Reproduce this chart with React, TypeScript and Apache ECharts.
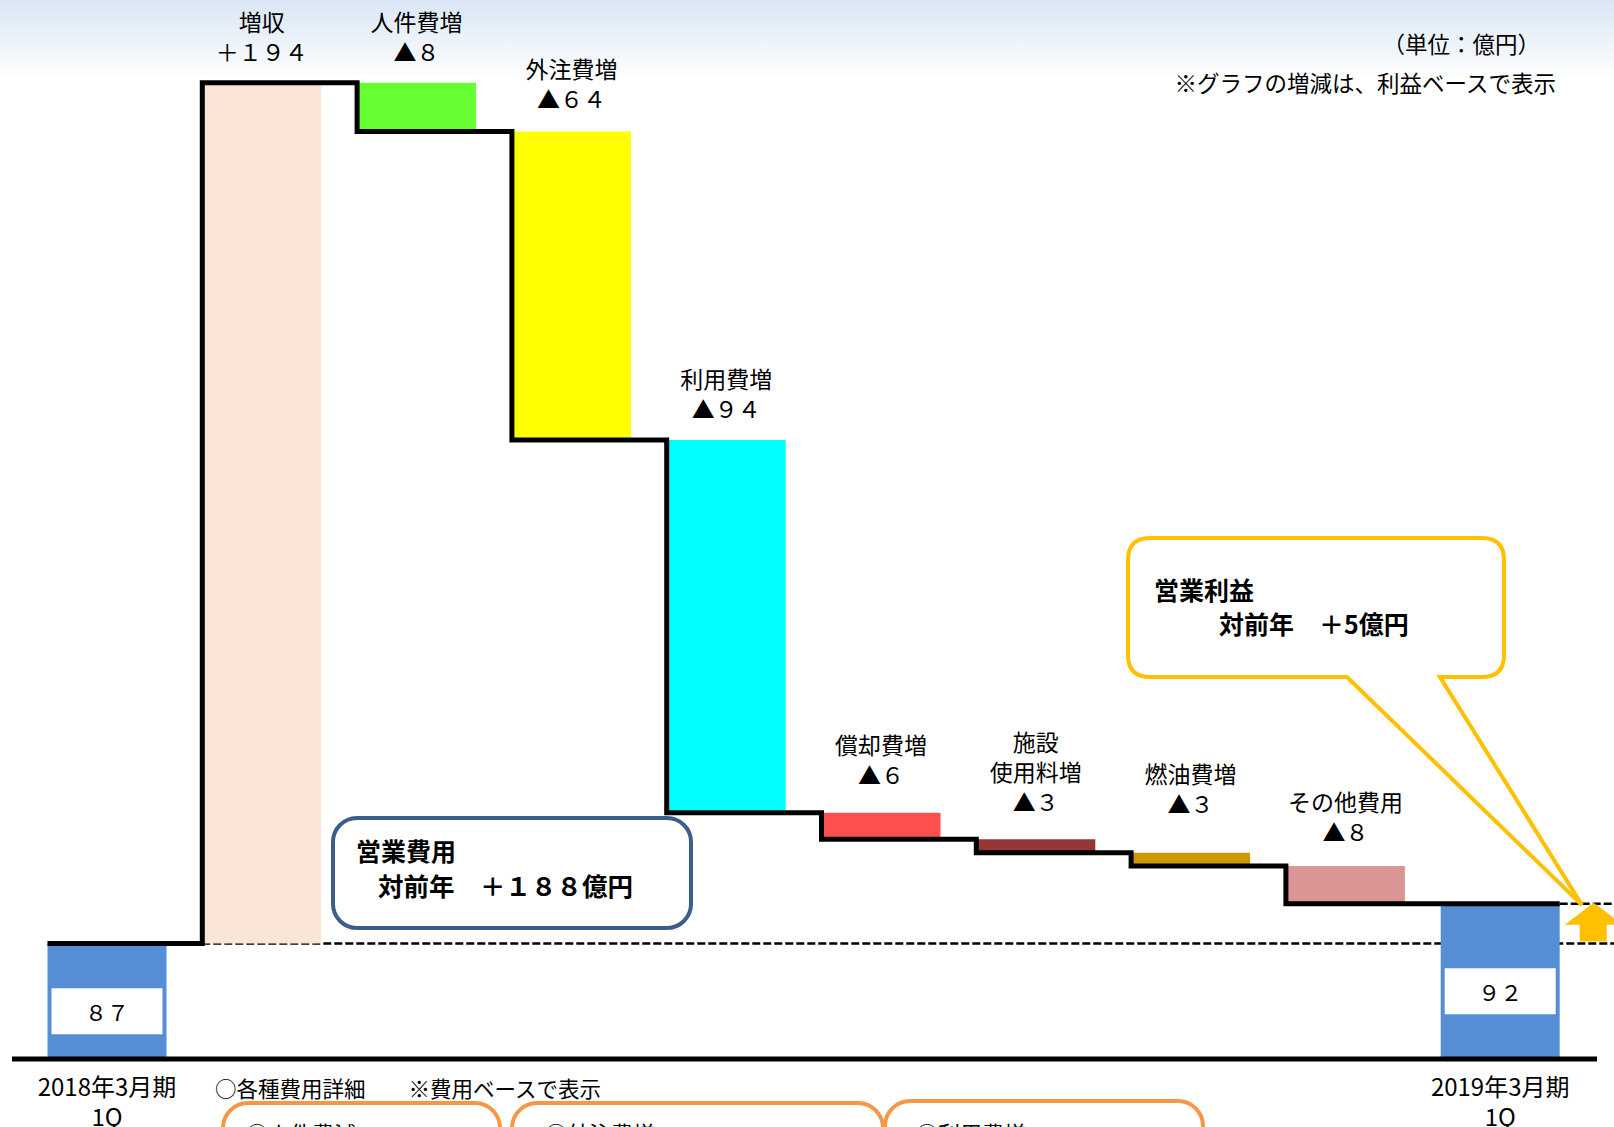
import React, { useEffect, useRef } from "react";
import * as echarts from "echarts";

const FONT = '"Noto Sans CJK JP", "Noto Sans", sans-serif';

// ---- data ----
const categories = [
  "2018年3月期\n1Q",
  "増収",
  "人件費増",
  "外注費増",
  "利用費増",
  "償却費増",
  "施設使用料増",
  "燃油費増",
  "その他費用",
  "2019年3月期\n1Q",
];
const startValue = 87;
// bar heights as drawn in the picture (profit-based)
const changes = [194, -11, -69.5, -84, -6, -3, -3, -8.5];
const totalLabels = ["８７", "９２"];
const changeLabels = [
  "増収\n＋１９４",
  "人件費増\n▲８",
  "外注費増\n▲６４",
  "利用費増\n▲９４",
  "償却費増\n▲６",
  "施設\n使用料増\n▲３",
  "燃油費増\n▲３",
  "その他費用\n▲８",
];
const changeColors = ["#FBE5D6", "#66FF33", "#FFFF00", "#00FFFF", "#FF5050", "#953735", "#CC9900", "#D99694"];
const labelGaps = [17, 17, 18, 17, 24, 23, 35, 20];

// ---- derived ----
const levels: number[] = [startValue];
changes.forEach((c, i) => levels.push(levels[i] + c));
const endValue = levels[levels.length - 1];
const N = categories.length;

const BAR_W = 119;
const Y_MIN = 61;
const Y_MAX = 290;
const W = 1614;
const H = 1127;
const AXIS_Y = 1059;
const GRID_H = (Y_MAX - Y_MIN) * 4.438;
const GRID_TOP = AXIS_Y - GRID_H;

const CALLOUT_PATH =
  "M 1150 538 L 1482 538 Q 1504 538 1504 560 L 1504 655 Q 1504 677 1482 677 L 1440 677 L 1582 905 L 1347 677 L 1150 677 Q 1128 677 1128 655 L 1128 560 Q 1128 538 1150 538 Z";

let registered = false;
function ensureShapes() {
  if (registered) return;
  registered = true;
  echarts.graphic.registerShape("callout", echarts.graphic.extendPath(CALLOUT_PATH, {}) as any);
}

export default function App() {
  const ref = useRef<HTMLDivElement>(null);

  useEffect(() => {
    if (!ref.current) return;
    ensureShapes();
    const chart = echarts.init(ref.current, null, { renderer: "svg", width: W, height: H });

    const baseData: any[] = [];
    const deltaData: any[] = [];
    const totalData: any[] = [];
    for (let i = 0; i < N; i++) {
      if (i === 0 || i === N - 1) {
        baseData.push("-");
        deltaData.push("-");
        totalData.push({
          value: i === 0 ? startValue : endValue,
          label: { formatter: totalLabels[i === 0 ? 0 : 1] },
        });
      } else {
        const k = i - 1;
        const c = changes[k];
        baseData.push(c > 0 ? levels[k] : levels[k + 1]);
        deltaData.push({
          value: Math.abs(c),
          itemStyle: { color: changeColors[k] },
          label: { formatter: changeLabels[k], distance: labelGaps[k] },
        });
        totalData.push("-");
      }
    }

    const option: any = {
      animation: false,
      backgroundColor: "#ffffff",
      grid: {
        left: 29.6,
        width: 1548,
        top: GRID_TOP,
        height: GRID_H,
        containLabel: false,
        outerBoundsMode: "none",
      },
      xAxis: {
        type: "category",
        data: categories,
        axisLine: { show: false },
        axisTick: { show: false },
        axisLabel: {
          interval: 0,
          margin: 11,
          fontSize: 24,
          lineHeight: 30,
          color: "#000",
          fontFamily: FONT,
          formatter: (v: string, i: number) => (i === 0 || i === N - 1 ? v : ""),
        },
        splitLine: { show: false },
      },
      yAxis: { type: "value", min: Y_MIN, max: Y_MAX, show: false, splitLine: { show: false } },
      series: [
        {
          type: "custom",
          name: "dash",
          z: 1,
          clip: false,
          data: [[0, startValue]],
          renderItem: (params: any, api: any) => {
            const half = BAR_W / 2;
            const xc = (i: number) => api.coord([i, startValue])[0];
            const y = (v: number) => api.coord([0, v])[1];
            const x1 = xc(1) - half;
            const xR = xc(N - 1) + half;
            const yS = y(startValue);
            const yE = y(endValue);
            const cx = xR + 34;
            const headY = yE + 21;
            return {
              type: "group",
              children: [
                {
                  type: "line",
                  shape: { x1: x1, y1: yS, x2: api.getWidth(), y2: yS },
                  style: { stroke: "#000", lineWidth: 2.5, lineDash: [8, 3] },
                },
                {
                  type: "line",
                  shape: { x1: xR, y1: yE, x2: api.getWidth(), y2: yE },
                  style: { stroke: "#000", lineWidth: 2.5, lineDash: [8, 3] },
                },
                {
                  type: "polygon",
                  shape: {
                    points: [
                      [cx, yE - 1],
                      [cx + 29, headY],
                      [cx + 13, headY],
                      [cx + 13, yS - 2],
                      [cx - 14, yS - 2],
                      [cx - 14, headY],
                      [cx - 29, headY],
                    ],
                  },
                  style: { fill: "#FFC000" },
                },
              ],
            };
          },
        },
        {
          type: "bar",
          name: "base",
          stack: "w",
          barWidth: BAR_W,
          barGap: "-100%",
          itemStyle: { color: "transparent" },
          data: baseData,
        },
        {
          type: "bar",
          name: "delta",
          stack: "w",
          barWidth: BAR_W,
          barGap: "-100%",
          data: deltaData,
          label: {
            show: true,
            position: "top",
            fontSize: 23,
            lineHeight: 30,
            color: "#000",
            fontFamily: FONT,
            align: "center",
          },
        },
        {
          type: "bar",
          name: "total",
          barWidth: BAR_W,
          barGap: "-100%",
          itemStyle: { color: "#558ED5" },
          data: totalData,
          label: {
            show: true,
            position: "inside",
            offset: [0, 10],
            backgroundColor: "#ffffff",
            width: 111,
            height: 46,
            lineHeight: 46,
            align: "center",
            verticalAlign: "middle",
            fontSize: 22,
            color: "#000",
            fontFamily: FONT,
          },
        },
        {
          type: "custom",
          name: "step",
          z: 5,
          clip: false,
          data: [[0, startValue]],
          renderItem: (params: any, api: any) => {
            const half = BAR_W / 2;
            const xc = (i: number) => api.coord([i, startValue])[0];
            const y = (v: number) => api.coord([0, v])[1];
            const pts: number[][] = [[xc(0) - half, y(levels[0])]];
            for (let k = 1; k < levels.length; k++) {
              pts.push([xc(k) - half, y(levels[k - 1])]);
              pts.push([xc(k) - half, y(levels[k])]);
            }
            pts.push([xc(N - 1) + half, y(levels[levels.length - 1])]);
            return {
              type: "group",
              children: [
                {
                  type: "polyline",
                  shape: { points: pts },
                  style: { stroke: "#000", lineWidth: 5, fill: null, lineJoin: "miter" },
                },
                {
                  type: "line",
                  shape: { x1: 12, y1: y(Y_MIN), x2: 1597, y2: y(Y_MIN) },
                  style: { stroke: "#000", lineWidth: 5 },
                },
              ],
            };
          },
        },
      ],
      graphic: [
        {
          type: "rect",
          z: -100,
          silent: true,
          shape: { x: 0, y: 0, width: W, height: 80 },
          style: {
            fill: new echarts.graphic.LinearGradient(0, 0, 0, 1, [
              { offset: 0, color: "#D9E6F5" },
              { offset: 1, color: "#FFFFFF" },
            ]),
          },
        },
        {
          type: "text",
          z: 100,
          x: 1540,
          y: 43,
          style: { text: "（単位：億円）", fontSize: 22.5, fontFamily: FONT, fill: "#000", align: "right", verticalAlign: "middle" },
        },
        {
          type: "text",
          z: 100,
          x: 1556,
          y: 82,
          style: { text: "※グラフの増減は、利益ベースで表示", fontSize: 22.5, fontFamily: FONT, fill: "#000", align: "right", verticalAlign: "middle" },
        },
        // operating expense box
        {
          type: "rect",
          z: 100,
          shape: { x: 333, y: 818, width: 358, height: 110, r: 24 },
          style: { fill: "#ffffff", stroke: "#3B5E8C", lineWidth: 4 },
        },
        {
          type: "text",
          z: 101,
          x: 356,
          y: 850,
          style: { text: "営業費用", fontSize: 25, fontWeight: "bold", fontFamily: FONT, fill: "#000", verticalAlign: "middle" },
        },
        {
          type: "text",
          z: 101,
          x: 378,
          y: 884,
          style: { text: "対前年　＋１８８億円", fontSize: 25.5, fontWeight: "bold", fontFamily: FONT, fill: "#000", verticalAlign: "middle" },
        },
        // operating profit callout
        {
          type: "callout",
          z: 100,
          style: { fill: "#ffffff", stroke: "#FFC000", lineWidth: 4, lineJoin: "miter" },
        },
        {
          type: "text",
          z: 101,
          x: 1154,
          y: 589,
          style: { text: "営業利益", fontSize: 25, fontWeight: "bold", fontFamily: FONT, fill: "#000", verticalAlign: "middle" },
        },
        {
          type: "text",
          z: 101,
          x: 1219,
          y: 623,
          style: { text: "対前年　＋5億円", fontSize: 25, fontWeight: "bold", fontFamily: FONT, fill: "#000", verticalAlign: "middle" },
        },
        // bottom detail notes
        {
          type: "text",
          z: 100,
          x: 215,
          y: 1087,
          style: { text: "○各種費用詳細　　※費用ベースで表示", fontSize: 21.5, fontFamily: FONT, fill: "#000", verticalAlign: "middle" },
        },
        {
          type: "rect",
          z: 100,
          shape: { x: 223, y: 1103, width: 277, height: 80, r: 25 },
          style: { fill: "#ffffff", stroke: "#F79646", lineWidth: 4 },
        },
        {
          type: "rect",
          z: 100,
          shape: { x: 512, y: 1103, width: 371, height: 80, r: 25 },
          style: { fill: "#ffffff", stroke: "#F79646", lineWidth: 4 },
        },
        {
          type: "rect",
          z: 100,
          shape: { x: 885, y: 1101, width: 318, height: 80, r: 25 },
          style: { fill: "#ffffff", stroke: "#F79646", lineWidth: 4 },
        },
        {
          type: "text",
          z: 101,
          x: 246,
          y: 1132,
          style: { text: "○人件費減", fontSize: 22, fontFamily: FONT, fill: "#000", verticalAlign: "middle" },
        },
        {
          type: "text",
          z: 101,
          x: 545,
          y: 1132,
          style: { text: "○外注費増", fontSize: 22, fontFamily: FONT, fill: "#000", verticalAlign: "middle" },
        },
        {
          type: "text",
          z: 101,
          x: 916,
          y: 1132,
          style: { text: "○利用費増", fontSize: 22, fontFamily: FONT, fill: "#000", verticalAlign: "middle" },
        },
      ],
    };

    chart.setOption(option);
    return () => chart.dispose();
  }, []);

  return (
    <div
      ref={ref}
      style={{ position: "absolute", left: 0, top: 0, width: W, height: H, background: "#fff" }}
    />
  );
}
